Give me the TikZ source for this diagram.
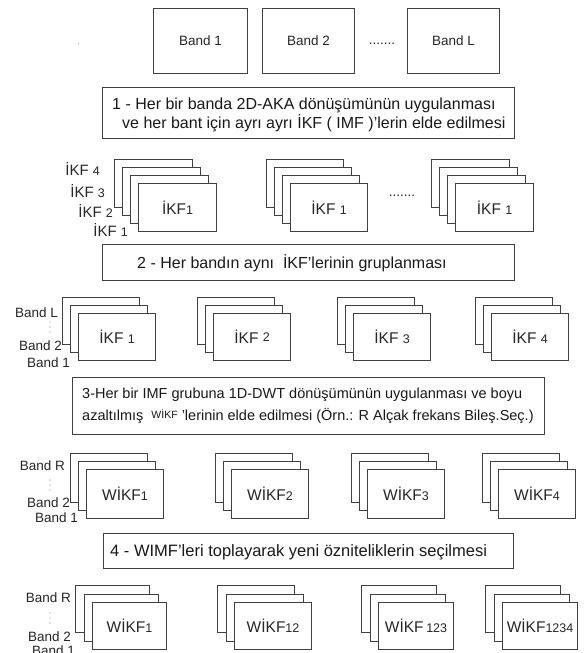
\documentclass[tikz,border=0pt]{standalone}
\usepackage{fontspec}
\setmainfont{Liberation Sans}
\newcommand{\sn}[1]{{\fontsize{12.5}{12.5}\selectfont #1}}
\newcommand{\stk}[7]{%
  \foreach \k in {#6,...,0}{%
    \node[layer, minimum width=#4pt, minimum height=#5pt] (#1-\k) at ({#2-\k*#7},{#3-\k*#7}) {};
  }%
}
\begin{document}
\begin{tikzpicture}[x=1pt,y=-1pt,
  edgeline/.style={draw=black!75, line width=1.1pt},
  layer/.style={edgeline, fill=white, inner sep=0pt, anchor=north west},
  stepbox/.style={edgeline, fill=white, inner sep=0pt, anchor=north west},
  bandbox/.style={edgeline, fill=white, inner sep=0pt, anchor=north west, text=black!85, font=\fontsize{13.5}{16}\selectfont},
  bt/.style={inner sep=0pt, text=black!85, font=\fontsize{13.5}{16}\selectfont},
  st/.style={inner sep=0pt, text=black!90, font=\fontsize{16}{19}\selectfont, anchor=base west},
  gt/.style={inner sep=0pt, text=black!85, font=\fontsize{15.5}{18}\selectfont},
  lt/.style={inner sep=0pt, text=black!85, font=\fontsize{15}{18}\selectfont, anchor=base east},
  blt/.style={inner sep=0pt, text=black!85, font=\fontsize{13.5}{16}\selectfont, anchor=base east},
  vdot/.style={fill=black!45}
]
\useasboundingbox (0,0) rectangle (585,653);
\fill[white] (0,0) rectangle (585,653);
\fill[blue!40!gray!50] (77.5,42.5) rectangle (79,44);

% top band boxes
\node[bandbox, minimum width=94pt, minimum height=65pt] (b1) at (153,8) {Band 1};
\node[bandbox, minimum width=92pt, minimum height=65pt] (b2) at (262,8) {Band 2};
\node[bandbox, minimum width=92pt, minimum height=65pt] (bL) at (407,8) {Band L};
\node[bt] (bdots) at (382,44) {.......};

% step 1
\node[stepbox, minimum width=412pt, minimum height=51pt] (s1) at (102,87) {};
\node[st] (s1a) at (112,109) {1 - Her bir banda 2D-AKA dönüşümünün uygulanması};
\node[st] (s1b) at (122,128) {ve her bant için ayrı ayrı İKF ( IMF )'lerin elde edilmesi};

% row 2 stacks
\stk{r2a}{138}{183}{78}{48}{3}{8}
\stk{r2b}{290}{183}{77}{48}{3}{8}
\stk{r2c}{455}{183}{78}{48}{3}{8}
\node[gt] (r2at) at (r2a-0) {İKF\sn{1}};
\node[gt] (r2bt) at (r2b-0) {İKF \sn{1}};
\node[gt] (r2ct) at (r2c-0) {İKF \sn{1}};
\node[bt] (r2dots) at (402,196) {.......};
\node[lt] (r2l4) at (100,175) {İKF \sn{4}};
\node[lt] (r2l3) at (105,197) {İKF \sn{3}};
\node[lt] (r2l2) at (113,217) {İKF \sn{2}};
\node[lt] (r2l1) at (128,236) {İKF \sn{1}};

% step 2
\node[stepbox, minimum width=412pt, minimum height=36pt] (s2) at (102,244) {};
\node[st] (s2a) at (137,268) {2 - Her bandın aynı \ İKF'lerinin gruplanması};

% row 3 stacks
\stk{r3a}{78}{313}{77}{47}{2}{8}
\stk{r3b}{213}{313}{77}{47}{2}{8}
\stk{r3c}{353}{313}{77}{47}{2}{8}
\stk{r3d}{491}{313}{77}{47}{2}{8}
\node[gt] (r3at) at (r3a-0) {İKF \sn{1}};
\node[gt] (r3bt) at (r3b-0) {İKF \raisebox{2pt}{\sn{2}}};
\node[gt] (r3ct) at (r3c-0) {İKF \sn{3}};
\node[gt] (r3dt) at (r3d-0) {İKF \sn{4}};
\node[blt] (r3lL) at (58,317) {Band L};
\node[blt] (r3l2) at (62,350) {Band 2};
\node[blt] (r3l1) at (70,367) {Band 1};
\foreach \yy in {322,327,332} \fill[vdot] (50,\yy) circle (0.7pt);

% step 3
\node[stepbox, minimum width=472pt, minimum height=57pt] (s3) at (72,377) {};
\node[st, font=\fontsize{14.5}{17}\selectfont] (s3a) at (82,398) {3-Her bir IMF grubuna 1D-DWT dönüşümünün uygulanması ve boyu};
\node[st, font=\fontsize{14.5}{17}\selectfont] (s3b) at (82,420) {azaltılmış \ {\fontsize{10.5}{12}\selectfont\raisebox{1.5pt}{WİKF}} 'lerinin elde edilmesi (Örn.: R Alçak frekans Bileş.Seç.)};

% row 4 stacks
\stk{r4a}{86}{469}{77}{49}{2}{8}
\stk{r4b}{231}{469}{77}{49}{2}{8}
\stk{r4c}{367}{469}{77}{49}{2}{8}
\stk{r4d}{498}{469}{77}{49}{2}{8}
\node[gt] (r4at) at (r4a-0) {WİKF\sn{1}};
\node[gt] (r4bt) at (r4b-0) {WİKF\sn{2}};
\node[gt] (r4ct) at (r4c-0) {WİKF\sn{3}};
\node[gt] (r4dt) at (r4d-0) {WİKF\sn{4}};
\node[blt] (r4lR) at (65,470) {Band R};
\node[blt] (r4l2) at (70,507) {Band 2};
\node[blt] (r4l1) at (78,522) {Band 1};
\foreach \yy in {480,485,490} \fill[vdot] (50,\yy) circle (0.7pt);

% step 4
\node[stepbox, minimum width=410pt, minimum height=35pt] (s4) at (103,533) {};
\node[st, font=\fontsize{16.5}{19}\selectfont] (s4a) at (110,556) {4 - WIMF'leri toplayarak yeni özniteliklerin seçilmesi};

% row 5 stacks
\stk{r5a}{92}{602}{74}{47}{2}{8.5}
\stk{r5b}{234}{602}{77}{47}{2}{8.5}
\stk{r5c}{378}{602}{75}{47}{2}{8.5}
\stk{r5d}{502}{602}{75}{47}{2}{8.5}
\node[gt] (r5at) at (r5a-0) {WİKF\sn{1}};
\node[gt] (r5bt) at (r5b-0) {WİKF\sn{12}};
\node[gt] (r5ct) at (r5c-0) {WİKF\,\sn{123}};
\node[gt] (r5dt) at (r5d-0) {WİKF\sn{1234}};
\node[blt] (r5lR) at (71,602) {Band R};
\node[blt] (r5l2) at (71,641) {Band 2};
\node[blt] (r5l1) at (75,655) {Band 1};
\foreach \yy in {613,618,623} \fill[vdot] (50,\yy) circle (0.7pt);
\end{tikzpicture}
\end{document}
